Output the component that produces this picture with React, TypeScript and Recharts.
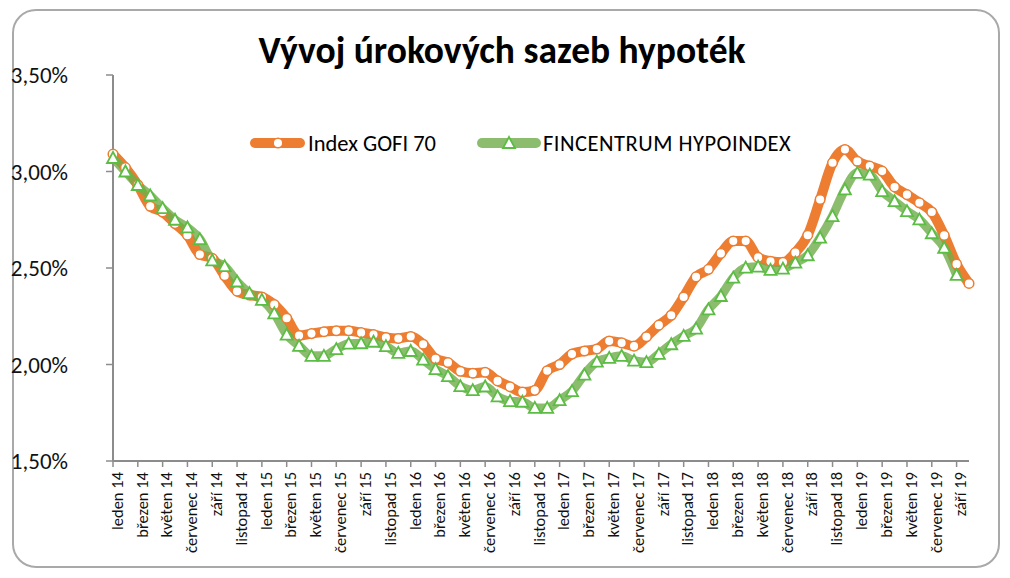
import { LineChart, Line, XAxis, YAxis } from 'recharts';

// month names + years used for the category axis
const months = ['leden', 'únor', 'březen', 'duben', 'květen', 'červen', 'červenec', 'srpen', 'září', 'říjen', 'listopad', 'prosinec'];
const years = ['14', '15', '16', '17', '18', '19'];

// Index GOFI 70 (leden 14 .. říjen 19), in %
const gofi = [
    3.09, 3.02, 2.93, 2.82, 2.79, 2.73, 2.67, 2.57, 2.55, 2.46, 2.38, 2.36,
    2.35, 2.31, 2.24, 2.15, 2.16, 2.17, 2.175, 2.175, 2.165, 2.155, 2.14, 2.135,
    2.145, 2.105, 2.03, 2.01, 1.965, 1.955, 1.96, 1.915, 1.885, 1.857, 1.866, 1.968,
    2.0, 2.054, 2.07, 2.08, 2.122, 2.112, 2.095, 2.144, 2.204, 2.255, 2.35, 2.454,
    2.493, 2.576, 2.64, 2.64, 2.555, 2.535, 2.53, 2.58, 2.67, 2.855, 3.045, 3.114,
    3.053, 3.028, 3.002, 2.92, 2.88, 2.838, 2.79, 2.669, 2.52, 2.42,
];

// FINCENTRUM HYPOINDEX (leden 14 .. září 19), in %
const fincentrum = [
    3.07, 3.0, 2.93, 2.876, 2.81, 2.75, 2.71, 2.65, 2.54, 2.51, 2.43, 2.37,
    2.335, 2.265, 2.155, 2.097, 2.045, 2.045, 2.08, 2.108, 2.11, 2.118, 2.095, 2.06,
    2.07, 2.025, 1.976, 1.94, 1.888, 1.867, 1.886, 1.835, 1.81, 1.807, 1.775, 1.775,
    1.815, 1.862, 1.948, 2.015, 2.034, 2.045, 2.02, 2.012, 2.055, 2.105, 2.148, 2.186,
    2.286, 2.355, 2.45, 2.502, 2.507, 2.49, 2.497, 2.528, 2.566, 2.657, 2.769, 2.907,
    2.993, 2.984, 2.898, 2.846, 2.795, 2.752, 2.68, 2.605, 2.464,
];

const yTicks = [1.5, 2.0, 2.5, 3.0, 3.5];

const categories = years.flatMap((y) => months.map((m) => `${m} ${y}`)).slice(0, gofi.length);

const chartData = categories.map((c, i) => ({
    month: c,
    gofi: gofi[i],
    fin: i < fincentrum.length ? fincentrum[i] : null,
}));

const ORANGE = '#ED7D31';
const GREEN = '#6FAC4B';
const GREEN_MARK = '#5CBD44';
const FONT = 'Carlito, Lato, "Open Sans", sans-serif';

const XTick = (props: any) => {
    const { x, y, payload } = props;
    const ax = x + 4;
    const ay = y + 3;
    return (
        <text
            x={ax}
            y={ay}
            dy="0.35em"
            transform={`rotate(-90 ${ax} ${ay})`}
            textAnchor="end"
            fontSize={16.5}
            fontFamily={FONT}
            fill="#111"
        >
            {payload.value}
        </text>
    );
};

const Triangle = (props: any) => {
    const { cx, cy, index } = props;
    if (cx == null || cy == null) return <g key={`t${index}`} />;
    return (
        <path
            key={`t${index}`}
            d={`M${cx},${cy - 6} L${cx - 6},${cy + 5} L${cx + 6},${cy + 5} Z`}
            fill="#fff"
            stroke={GREEN_MARK}
            strokeWidth={1.8}
        />
    );
};

// legend drawn as an overlay so it doesn't eat into the plot area
const ChartLegend = () => (
    <svg width={620} height={30} style={{ position: 'absolute', left: 250, top: 128 }}>
        <line x1={5} y1={15} x2={50} y2={15} stroke={ORANGE} strokeWidth={10} strokeLinecap="round" />
        <circle cx={28} cy={15} r={4.8} fill="#fff" stroke={ORANGE} strokeWidth={1.5} />
        <text x={58} y={15} dy="0.35em" fontSize={22.5} fontFamily={FONT} fill="#000">
            Index GOFI 70
        </text>
        <line x1={232} y1={15} x2={286} y2={15} stroke={GREEN} strokeOpacity={0.8} strokeWidth={10} strokeLinecap="round" />
        <path d="M259,9 L253,20 L265,20 Z" fill="#fff" stroke={GREEN_MARK} strokeWidth={1.8} />
        <text x={293} y={15} dy="0.35em" fontSize={22.5} fontFamily={FONT} fill="#000" letterSpacing={0.5}>
            FINCENTRUM HYPOINDEX
        </text>
    </svg>
);

export default function App() {
    return (
        <div
            style={{
                position: 'absolute',
                left: 0,
                top: 0,
                width: 1010,
                height: 578,
                background: '#fff',
                fontFamily: FONT,
            }}
        >
            <div
                style={{
                    position: 'absolute',
                    left: 12,
                    top: 9,
                    width: 984,
                    height: 555,
                    border: '2px solid #a9a9a9',
                    borderRadius: 24,
                }}
            />
            <div
                style={{
                    position: 'absolute',
                    left: 0,
                    top: 26,
                    width: 1004,
                    textAlign: 'center',
                    fontSize: 37.5,
                    fontWeight: 700,
                    color: '#000',
                    lineHeight: '48px',
                }}
            >
                Vývoj úrokových sazeb hypoték
            </div>
            <LineChart
                width={1010}
                height={578}
                data={chartData}
                margin={{ top: 75, right: 41, bottom: 17, left: 13 }}
                style={{ position: 'absolute', left: 0, top: 0 }}
            >
                <XAxis
                    dataKey="month"
                    interval={1}
                    height={100}
                    tickSize={6}
                    tick={<XTick />}
                    axisLine={{ stroke: '#8c8c8c', strokeWidth: 2 }}
                    tickLine={{ stroke: '#8c8c8c', strokeWidth: 1.5 }}
                />
                <YAxis
                    domain={[1.5, 3.5]}
                    ticks={yTicks}
                    width={100}
                    tickSize={7}
                    tickMargin={38}
                    tick={{ fill: '#111', fontSize: 23, fontFamily: FONT }}
                    axisLine={{ stroke: '#8c8c8c', strokeWidth: 2 }}
                    tickLine={{ stroke: '#8c8c8c', strokeWidth: 1.5 }}
                    tickFormatter={(v: number) => `${v.toFixed(2).replace('.', ',')}%`}
                />
                <Line
                    type="monotone"
                    dataKey="gofi"
                    name="Index GOFI 70"
                    stroke={ORANGE}
                    strokeWidth={10}
                    strokeLinejoin="round"
                    dot={{ r: 4.8, fill: '#fff', stroke: ORANGE, strokeWidth: 1.5 }}
                    activeDot={false}
                    isAnimationActive={false}
                />
                <Line
                    type="monotone"
                    dataKey="fin"
                    name="FINCENTRUM HYPOINDEX"
                    stroke={GREEN}
                    strokeOpacity={0.8}
                    strokeWidth={9}
                    strokeLinejoin="round"
                    dot={<Triangle />}
                    activeDot={false}
                    isAnimationActive={false}
                />
            </LineChart>
            <ChartLegend />
        </div>
    );
}
